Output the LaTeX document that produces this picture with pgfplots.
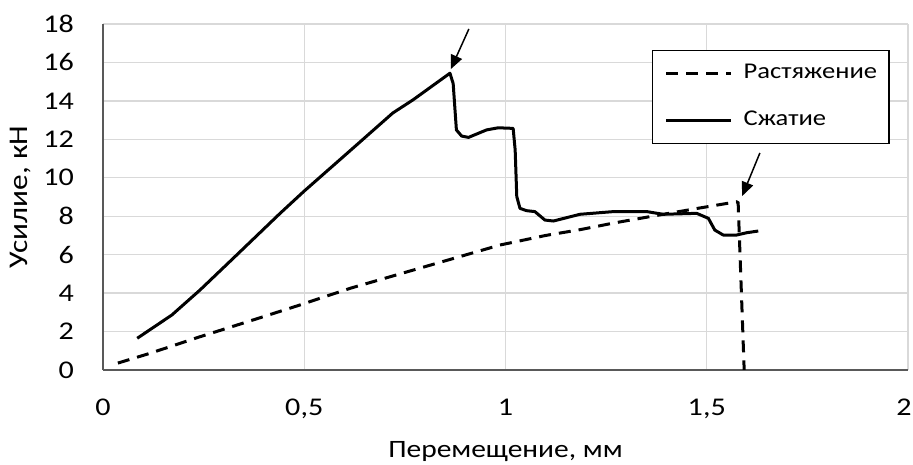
\documentclass[border=0pt]{standalone}
\usepackage{fontspec}
\setmainfont{Carlito}[FakeStretch=1.18]
\newfontfamily\ylabfont{Carlito}[FakeStretch=1.16]
\usepackage{pgfplots}
\pgfplotsset{compat=1.18}
\usetikzlibrary{arrows.meta}
\begin{document}
\begin{tikzpicture}
\useasboundingbox (-103pt,-95pt) rectangle (810pt,370pt);
\begin{axis}[
  at={(0pt,0pt)}, anchor=south west,
  scale only axis, width=805pt, height=346pt,
  xmin=0, xmax=2, ymin=0, ymax=18,
  xtick={0,0.5,1,1.5,2}, xticklabels={0,{0,5},1,{1,5},{\kern-8pt 2}},
  ytick={0,2,...,18},
  grid=major, major grid style={color=black!15, line width=1.3pt},
  axis x line*=bottom, axis y line*=left,
  axis line style={-, color=black!65, line width=1.2pt},
  major tick length=0pt,
  /pgf/number format/assume math mode=true,
  tick label style={font=\fontsize{25.5}{30}\selectfont},
  xticklabel style={anchor=base, yshift=-46pt, inner sep=0pt},
  yticklabel style={anchor=east, xshift=-29pt, inner sep=0pt},
  xlabel={Перемещение, мм},
  xlabel style={at={(axis description cs:0.5,-0.236)}, anchor=center, font=\fontsize{25}{30}\selectfont},
  ylabel={Усилие, кН},
  ylabel style={at={(axis description cs:-0.103,0.5)}, anchor=center, font=\ylabfont\fontsize{27}{32}\selectfont},
  legend style={at={(0.682,0.925)}, anchor=north west, draw=black, line width=1.2pt,
    inner xsep=12pt, inner ysep=13pt, row sep=27pt,
    font=\fontsize{22.5}{27}\selectfont,
    nodes={inner sep=0pt, text height=15pt, text depth=5pt}},
  legend cell align=left,
  legend image code/.code={\draw[#1] (0pt,0pt) -- (65pt,0pt); \path (76pt,0pt);},
]
\addplot[black, line width=3pt, dash pattern=on 12pt off 8pt] coordinates {
(0.037,0.36) (0.117,0.87) (0.241,1.73) (0.365,2.55) (0.489,3.38) (0.614,4.25)
(0.771,5.2) (0.986,6.5) (1.1,7.0) (1.185,7.3) (1.27,7.65) (1.351,7.95)
(1.475,8.4) (1.574,8.75) (1.578,8.7) (1.593,0.0)
};
\addlegendentry{Растяжение}
\addplot[black, line width=3pt, line join=round] coordinates {
(0.085,1.65) (0.171,2.86) (0.241,4.16) (0.332,5.98) (0.44,8.15) (0.5,9.31)
(0.614,11.41) (0.72,13.37) (0.77,14.05) (0.862,15.44) (0.87,14.9) (0.878,12.49)
(0.891,12.17) (0.908,12.1) (0.953,12.49) (0.982,12.6) (1.019,12.57) (1.024,11.45)
(1.028,9.02) (1.036,8.41) (1.052,8.29) (1.073,8.24) (1.098,7.8) (1.119,7.75)
(1.185,8.1) (1.268,8.24) (1.351,8.24) (1.392,8.1) (1.475,8.15) (1.504,7.89)
(1.52,7.28) (1.541,7.02) (1.574,7.02) (1.599,7.14) (1.628,7.23)
};
\addlegendentry{Сжатие}
\draw[black, line width=1.5pt, -{Triangle[length=14pt,width=12pt]}] (axis cs:0.909,17.74) -- (axis cs:0.864,15.65);
\draw[black, line width=1.5pt, -{Triangle[length=14pt,width=12pt]}] (axis cs:1.632,11.29) -- (axis cs:1.588,9.05);
\end{axis}
\end{tikzpicture}
\end{document}
